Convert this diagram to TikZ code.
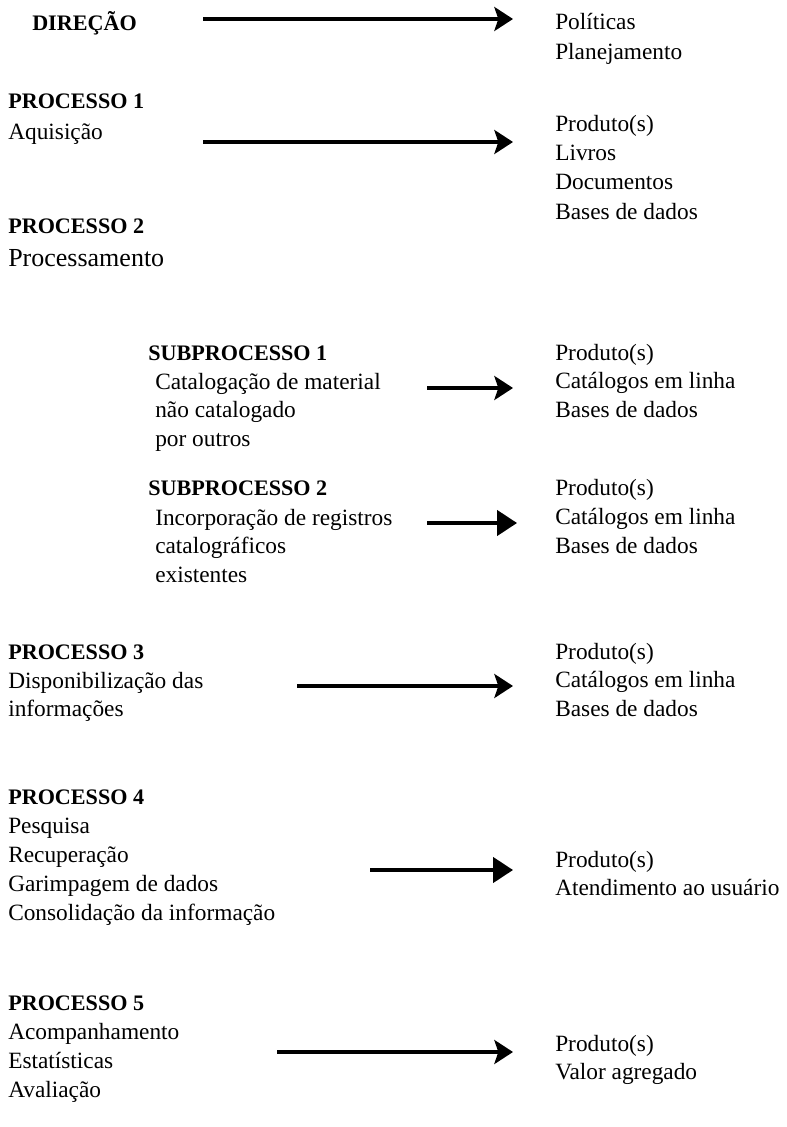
\documentclass[tikz,border=0pt]{standalone}
\usepackage{fontspec}
\setmainfont{Liberation Serif}
\usetikzlibrary{arrows.meta}

\begin{document}
\begin{tikzpicture}[x=0.75pt,y=-0.75pt,line cap=butt]
  \tikzset{txt/.style={anchor=base west,inner sep=0pt,font=\fontsize{17.5}{20}\selectfont},
    head/.style={txt,font=\fontsize{16.6}{20}\selectfont\bfseries},
    flow/.style={line width=2.6pt,-{Stealth[length=14pt,width=18pt,inset=3pt]}},
    flowbig/.style={line width=2.6pt,-{Triangle[length=15pt,width=19pt]}}}

  \path[use as bounding box] (0,0) rectangle (787,1127);

  % lado esquerdo
  \node[head] (dir) at (32,31) {DIREÇÃO};
  \node[head] (p1) at (8,109) {PROCESSO 1};
  \node[txt] (p1a) at (8,140) {Aquisição};
  \node[head] (p2) at (8,233) {PROCESSO 2};
  \node[txt,font=\fontsize{19.5}{22}\selectfont] (p2a) at (8,266) {Processamento};
  \node[head] (s1) at (148,360) {SUBPROCESSO 1};
  \foreach \t [count=\i] in {Catalogação de material,não catalogado,por outros}
    \node[txt] (s1l\i) at (155,{389+28.5*(\i-1)}) {\t};
  \node[head] (s2) at (148,495) {SUBPROCESSO 2};
  \foreach \t [count=\i] in {Incorporação de registros,catalográficos,existentes}
    \node[txt] (s2l\i) at (155,{525+28.5*(\i-1)}) {\t};
  \node[head] (p3) at (8,659) {PROCESSO 3};
  \foreach \t [count=\i] in {Disponibilização das,informações}
    \node[txt] (p3l\i) at (8,{688+28.5*(\i-1)}) {\t};
  \node[head] (p4) at (8,804) {PROCESSO 4};
  \foreach \t [count=\i] in {Pesquisa,Recuperação,Garimpagem de dados,Consolidação da informação}
    \node[txt] (p4l\i) at (8,{833+29*(\i-1)}) {\t};
  \node[head] (p5) at (8,1010) {PROCESSO 5};
  \foreach \t [count=\i] in {Acompanhamento,Estatísticas,Avaliação}
    \node[txt] (p5l\i) at (8,{1039+29*(\i-1)}) {\t};

  % lado direito
  \foreach \t [count=\i] in {Políticas,Planejamento}
    \node[txt] (dirr\i) at (555,{30+30*(\i-1)}) {\t};
  \foreach \t [count=\i] in {Produto(s),Livros,Documentos,Bases de dados}
    \node[txt] (p1r\i) at (555,{132+29*(\i-1)}) {\t};
  \foreach \t [count=\i] in {Produto(s),Catálogos em linha,Bases de dados}
    \node[txt] (s1r\i) at (555,{360+28.5*(\i-1)}) {\t};
  \foreach \t [count=\i] in {Produto(s),Catálogos em linha,Bases de dados}
    \node[txt] (s2r\i) at (555,{495+29*(\i-1)}) {\t};
  \foreach \t [count=\i] in {Produto(s),Catálogos em linha,Bases de dados}
    \node[txt] (p3r\i) at (555,{659+28.5*(\i-1)}) {\t};
  \foreach \t [count=\i] in {Produto(s),Atendimento ao usuário}
    \node[txt] (p4r\i) at (555,{867+28*(\i-1)}) {\t};
  \foreach \t [count=\i] in {Produto(s),Valor agregado}
    \node[txt] (p5r\i) at (555,{1051+28*(\i-1)}) {\t};

  % setas
  \coordinate (a0s) at (203,19);   \coordinate (a0e) at (513,19);
  \coordinate (a1s) at (203,142);  \coordinate (a1e) at (513,142);
  \coordinate (a2s) at (427,388);  \coordinate (a2e) at (513,388);
  \coordinate (a3s) at (427,523);  \coordinate (a3e) at (517,523);
  \coordinate (a4s) at (297,686);  \coordinate (a4e) at (513,686);
  \coordinate (a5s) at (370,870);  \coordinate (a5e) at (513,870);
  \coordinate (a6s) at (277,1052); \coordinate (a6e) at (513,1052);
  \draw[flow] (a0s) -- (a0e);
  \draw[flow] (a1s) -- (a1e);
  \draw[flow] (a2s) -- (a2e);
  \draw[flowbig] (a3s) -- (a3e);
  \draw[flow] (a4s) -- (a4e);
  \draw[flowbig] (a5s) -- (a5e);
  \draw[flow] (a6s) -- (a6e);
\end{tikzpicture}
\end{document}
